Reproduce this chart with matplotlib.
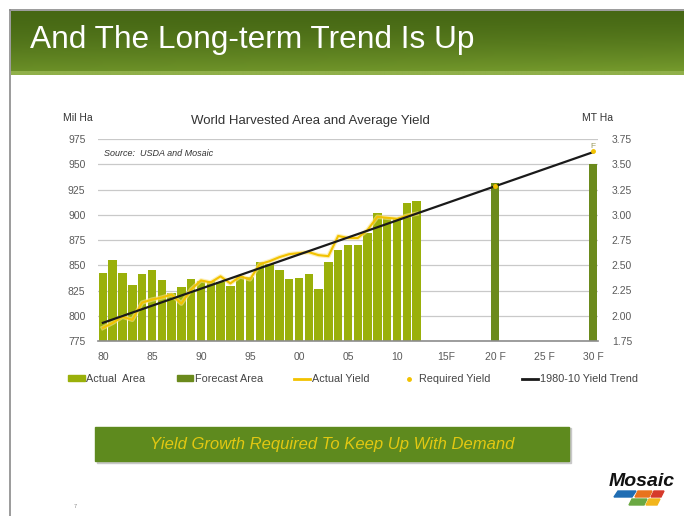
import numpy as np
import matplotlib
matplotlib.use("Agg")
import matplotlib.pyplot as plt
from matplotlib.patches import Rectangle, Polygon, Patch
from matplotlib.lines import Line2D

plt.rcParams["font.family"] = ["Liberation Sans", "DejaVu Sans"]

# ---- data ----
years_actual = list(range(1980, 2013))
area_actual = [842, 855, 842, 830, 841, 845, 835, 823, 828, 836,
               834, 834, 833, 829, 839, 838, 853, 851, 845, 836,
               837, 841, 826, 853, 865, 870, 870, 882, 902, 897,
               896, 912, 914]
yield_actual = [1.88, 1.93, 1.99, 1.96, 2.13, 2.16, 2.18, 2.21, 2.12, 2.26,
                2.35, 2.33, 2.39, 2.32, 2.39, 2.36, 2.51, 2.54, 2.58, 2.61,
                2.62, 2.63, 2.60, 2.59, 2.79, 2.77, 2.77, 2.85, 2.98, 2.97,
                2.96, 2.99, 3.01]
years_forecast = [2020, 2030]
area_forecast = [931, 950]
years_required = [2020, 2030]
yield_required = [3.28, 3.63]
years_trend = [1980, 2030]
yield_trend = [1.93, 3.62]

xtick_years = [1980, 1985, 1990, 1995, 2000, 2005, 2010, 2015, 2020, 2025, 2030]
xtick_labels = ["80", "85", "90", "95", "00", "05", "10", "15F", "20 F", "25 F", "30 F"]
area_ticks = [775, 800, 825, 850, 875, 900, 925, 950, 975]
yield_ticks = [1.75, 2.00, 2.25, 2.50, 2.75, 3.00, 3.25, 3.50, 3.75]

C_ACTUAL = "#9AB00A"
C_FORECAST = "#6B8A1C"
C_YIELD = "#F2C200"
C_TREND = "#1A1A1A"
C_TXT = "#5a5a5a"

W, H = 684, 516
fig = plt.figure(figsize=(W / 100, H / 100), dpi=100)


def fx(px):
    return px / W


def fy(py):
    return 1 - py / H


# ---- slide frame + header banner ----
fig.add_artist(Line2D([fx(10), 1], [fy(10), fy(10)], color="#8a8a8a", lw=1.2))
fig.add_artist(Line2D([fx(10), fx(10)], [0, fy(10)], color="#8a8a8a", lw=1.2))

ban = fig.add_axes([fx(11), fy(75), 1 - fx(11), (75 - 11) / H])
ny, nx = 64, 300
t = np.linspace(0, 1, ny)[:, None]
s = np.linspace(0, 1, nx)[None, :]
dark = np.array([0x3e, 0x5f, 0x10]) / 255
light = np.array([0x74, 0x99, 0x2c]) / 255
mix = np.clip(0.15 + 0.75 * t ** 1.6 + 0.2 * s * t, 0, 1)
grad = dark + (light - dark) * mix[..., None]
grad[-4:, :, :] = np.array([0x90, 0xb0, 0x4a]) / 255
ban.imshow(grad, extent=[0, 1, 0, 1], aspect="auto")
ban.axis("off")
fig.text(fx(30), fy(40), "And The Long-term Trend Is Up", color="white",
         fontsize=22.8, va="center", ha="left")

# ---- main chart ----
ax = fig.add_axes([fx(98), fy(341), fx(598) - fx(98), (341 - 139) / H])
ax.bar(years_actual, [a - 775 for a in area_actual], bottom=775, width=0.86,
       color=C_ACTUAL, zorder=2)
ax.bar(years_forecast, [a - 775 for a in area_forecast], bottom=775, width=0.86,
       color=C_FORECAST, zorder=2)
ax.set_xlim(1979.5, 2030.5)
ax.set_ylim(775, 975)
ax.set_yticks(area_ticks)
ax.set_xticks(xtick_years)
ax.set_xticklabels(xtick_labels)
ax.grid(axis="y", color="#c9c9c9", lw=0.9, zorder=0)
ax.set_axisbelow(True)
for sp in ["top", "right", "left"]:
    ax.spines[sp].set_visible(False)
ax.spines["bottom"].set_color("#8c8c8c")
ax.spines["bottom"].set_linewidth(1.2)
ax.tick_params(axis="both", length=0, labelsize=7.5, colors=C_TXT)
ax.tick_params(axis="y", pad=9)
ax.tick_params(axis="x", pad=8)

ax2 = ax.twinx()
ax2.set_ylim(1.75, 3.75)
ax2.set_yticks(yield_ticks)
ax2.set_yticklabels([f"{v:.2f}" for v in yield_ticks])
ax2.tick_params(axis="y", length=0, labelsize=7.5, colors=C_TXT, pad=10)
for sp in ax2.spines.values():
    sp.set_visible(False)
ax2.plot(years_actual, yield_actual, color="#FBE58A", lw=3.2, alpha=0.6, zorder=3)
ax2.plot(years_actual, yield_actual, color=C_YIELD, lw=1.5, zorder=3)
ax2.plot(years_trend, yield_trend, color=C_TREND, lw=1.6, zorder=4)
ax2.plot(years_required, yield_required, ls="none", marker="o", ms=2.5,
         color=C_YIELD, zorder=5)
ax2.annotate("F", (years_required[-1], yield_required[-1]), xytext=(0, 1),
             textcoords="offset points", fontsize=6, color="#9a9a60",
             ha="center", va="bottom")

ax.text(0.012, 0.93, "Source:  USDA and Mosaic", transform=ax.transAxes,
        fontsize=6.5, style="italic", color="#333333", va="center")

fig.text(fx(310), fy(121), "World Harvested Area and Average Yield",
         fontsize=9.5, color="#333333", ha="center", va="center")
fig.text(fx(78), fy(118), "Mil Ha", fontsize=7.5, color="#333333",
         ha="center", va="center")
fig.text(fx(598), fy(118), "MT Ha", fontsize=7.5, color="#333333",
         ha="center", va="center")

handles = [
    Patch(color=C_ACTUAL, label="Actual  Area"),
    Patch(color=C_FORECAST, label="Forecast Area"),
    Line2D([], [], color=C_YIELD, lw=2, label="Actual Yield"),
    Line2D([], [], color=C_YIELD, ls="none", marker="o", ms=2.5, label="Required Yield"),
    Line2D([], [], color=C_TREND, lw=2, label="1980-10 Yield Trend"),
]
fig.legend(handles=handles, loc="center", bbox_to_anchor=(fx(353), fy(379)),
           ncol=5, frameon=False, fontsize=7.8, handlelength=1.5,
           handleheight=0.5, handletextpad=0.15, columnspacing=2.9,
           labelcolor="#444444")

# ---- bottom message box ----
fig.add_artist(Rectangle((fx(97), fy(463)), fx(571) - fx(97), (463 - 428) / H,
                         transform=fig.transFigure, color="#c8c8c8", zorder=1))
fig.add_artist(Rectangle((fx(95), fy(461)), fx(569) - fx(95), (461 - 427) / H,
                         transform=fig.transFigure, color="#5E8A1E", zorder=2))
fig.text(fx(332), fy(444), "Yield Growth Required To Keep Up With Demand",
         fontsize=12, style="italic", color="#E2C812", ha="center",
         va="center", zorder=3)

# ---- logo and page number ----
fig.text(fx(642), fy(482), "Mosaic", fontsize=14, weight="bold",
         style="italic", color="#111111", ha="center", va="center")
tiles = [
    ([618, 636, 632, 614], [491, 491, 497, 497], "#1F6DB3"),
    ([638, 652, 649, 635], [491, 491, 497, 497], "#E8731C"),
    ([654, 664, 661, 651], [491, 491, 497, 497], "#D63A2A"),
    ([632, 647, 644, 629], [499, 499, 505, 505], "#6AA842"),
    ([649, 660, 657, 646], [499, 499, 505, 505], "#F2B51C"),
]
for xs, ys, c in tiles:
    fig.add_artist(Polygon(list(zip([fx(v) for v in xs], [fy(v) for v in ys])),
                           closed=True, transform=fig.transFigure, color=c))
fig.text(fx(75), fy(507), "7", fontsize=4, color="#888888", ha="center", va="center")

fig.savefig("out.png", dpi=100)
